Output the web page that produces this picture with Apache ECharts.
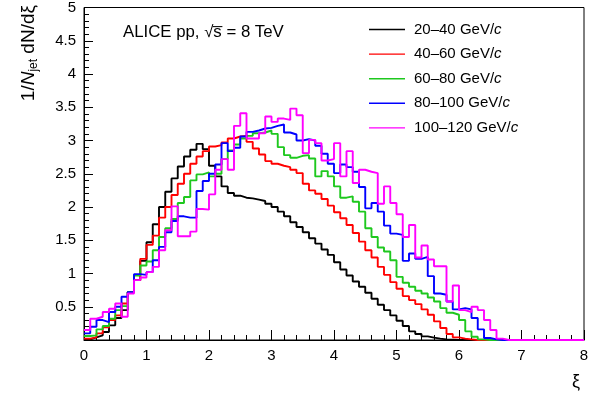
<!DOCTYPE html>
<html>
<head>
<meta charset="utf-8">
<script src="https://cdn.jsdelivr.net/npm/echarts@6/dist/echarts.min.js"></script>
<style>
html,body{margin:0;padding:0;background:#fff;}
#chart{width:602px;height:401px;}
</style>
</head>
<body>
<div id="chart"></div>
<script>
// Bin layout: 80 bins of width 0.1 from xi = 0 to 8
var binWidth = 0.1;
var nBins = 80;

var seriesNames = ['20–40 GeV/', '40–60 GeV/', '60–80 GeV/', '80–100 GeV/', '100–120 GeV/'];

var pt20_40 = [
  0.01, 0.04, 0.07, 0.12, 0.22, 0.33, 0.45, 0.72, 0.9, 1.19,
  1.47, 1.74, 2.0, 2.23, 2.43, 2.61, 2.76, 2.86, 2.95, 2.87,
  2.62, 2.46, 2.31, 2.21, 2.17, 2.14, 2.13, 2.11, 2.09, 2.05,
  2.0, 1.93, 1.86, 1.77, 1.7, 1.62, 1.53, 1.45, 1.36, 1.28,
  1.17, 1.06, 0.97, 0.88, 0.8, 0.71, 0.62, 0.53, 0.45, 0.37,
  0.29, 0.21, 0.13, 0.09, 0.055, 0.035, 0.02, 0.01, 0.005, 0,
  0, 0, 0, 0, 0, 0, 0, 0, 0, 0,
  0, 0, 0, 0, 0, 0, 0, 0, 0, 0
];
var pt40_60 = [
  0.02, 0.04, 0.1, 0.19, 0.3, 0.37, 0.55, 0.72, 0.9, 1.22,
  1.43, 1.57, 1.84, 2.0, 2.18, 2.35, 2.5, 2.65, 2.76, 2.84,
  2.91, 2.93, 2.97, 3.03, 3.06, 3.07, 2.98, 2.88, 2.79, 2.69,
  2.65, 2.62, 2.6, 2.56, 2.51, 2.35, 2.25, 2.2, 2.12, 2.02,
  1.92, 1.83, 1.73, 1.61, 1.48, 1.35, 1.24, 1.1, 0.98, 0.87,
  0.77, 0.66, 0.6, 0.54, 0.46, 0.38, 0.28, 0.18, 0.09, 0.04,
  0.02, 0.01, 0, 0, 0, 0, 0, 0, 0, 0,
  0, 0, 0, 0, 0, 0, 0, 0, 0, 0
];
var pt60_80 = [
  0.06, 0.07, 0.16, 0.21, 0.32, 0.45, 0.51, 0.72, 0.97, 1.12,
  1.18, 1.35, 1.55, 1.68, 1.82, 2.06, 2.15, 2.4, 2.49, 2.52,
  2.46, 2.5, 2.72, 2.85, 2.94, 3.03, 3.07, 3.11, 3.12, 3.15,
  3.1, 2.9, 2.78, 2.74, 2.77, 2.78, 2.73, 2.46, 2.54, 2.46,
  2.31, 2.14, 2.16, 2.08, 1.93, 1.68, 1.55, 1.39, 1.33, 1.2,
  0.95, 0.86, 0.8, 0.74, 0.7, 0.64, 0.58, 0.48, 0.41, 0.38,
  0.3, 0.13, 0.05, 0.01, 0, 0, 0, 0, 0, 0,
  0, 0, 0, 0, 0, 0, 0, 0, 0, 0
];
var pt80_100 = [
  0.1, 0.2, 0.3, 0.27, 0.42, 0.5, 0.65, 0.72, 0.99, 0.98,
  1.02, 1.2, 1.4, 1.62, 1.79, 1.86, 1.84, 1.84, 2.24, 2.39,
  2.5, 2.64, 2.96, 2.84, 2.89, 3.06, 3.13, 3.15, 3.18, 3.19,
  3.22, 3.24, 3.12, 3.09, 3.0, 3.02, 3.0, 2.92, 2.8, 2.65,
  2.51, 2.64, 2.6, 2.53, 2.3, 1.98, 2.06, 1.93, 1.72, 1.6,
  1.58, 1.19, 1.3, 1.22, 1.25, 0.96, 0.7, 0.68, 0.58, 0.46,
  0.48, 0.46, 0.33, 0.16, 0.03, 0.01, 0, 0, 0, 0,
  0, 0, 0, 0, 0, 0, 0, 0, 0, 0
];
var pt100_120 = [
  0.15, 0.32, 0.35, 0.42, 0.47, 0.55, 0.35, 0.7, 0.9, 0.94,
  1.02, 1.1, 1.35, 1.65, 2.01, 1.56, 1.56, 1.63, 1.97, 1.96,
  2.19, 2.56, 2.72, 2.56, 3.22, 3.41, 3.03, 3.03, 3.11, 3.36,
  3.28, 3.33, 3.31, 3.48, 3.38, 2.81, 3.01, 2.96, 2.7, 2.72,
  2.96, 2.46, 2.84, 2.36, 2.56, 2.53, 2.51, 2.05, 2.31, 2.06,
  1.89, 1.55, 1.73, 1.24, 1.42, 1.21, 1.11, 1.11, 0.58, 0.82,
  0.45, 0.42, 0.5, 0.45, 0.3, 0.15, 0.02, 0, 0, 0,
  0, 0, 0, 0, 0, 0, 0, 0, 0, 0
];

var seriesValues = [pt20_40, pt40_60, pt60_80, pt80_100, pt100_120];
var seriesColors = ['#000000', '#ff0000', '#1ec81e', '#0000ff', '#ff00ff'];

function histData(vals) {
  var out = [];
  for (var i = 0; i < vals.length; i++) {
    out.push([+(i * binWidth).toFixed(2), vals[i]]);
  }
  out.push([+(vals.length * binWidth).toFixed(2), vals[vals.length - 1]]);
  return out;
}

var FONT = '"Liberation Sans", Arial, Helvetica, sans-serif';

var series = seriesValues.map(function (vals, k) {
  return {
    name: seriesNames[k],
    type: 'line',
    step: 'end',
    symbol: 'none',
    showSymbol: false,
    data: histData(vals),
    lineStyle: { color: seriesColors[k], width: 1.9 },
    itemStyle: { color: seriesColors[k] },
    animation: false,
    z: 2 + k
  };
});

var chart = echarts.init(document.getElementById('chart'), null, { renderer: 'canvas' });
chart.setOption({
  backgroundColor: '#ffffff',
  animation: false,
  grid: { left: 84, right: 18, top: 6, bottom: 61, show: true, borderColor: '#000', borderWidth: 1, backgroundColor: 'transparent' },
  xAxis: {
    type: 'value', min: 0, max: 8, interval: 1,
    axisLine: { show: true, onZero: false, lineStyle: { color: '#000', width: 1 } },
    axisTick: { show: true, inside: true, length: 10, lineStyle: { color: '#000' } },
    minorTick: { show: true, splitNumber: 5, length: 5, lineStyle: { color: '#000' } },
    splitLine: { show: false },
    axisLabel: { color: '#000', fontFamily: FONT, fontSize: 15, margin: 8 }
  },
  yAxis: {
    type: 'value', min: 0, max: 5, interval: 0.5,
    axisLine: { show: true, onZero: false, lineStyle: { color: '#000', width: 1 } },
    axisTick: { show: true, inside: true, length: 9, lineStyle: { color: '#000' } },
    minorTick: { show: true, splitNumber: 5, length: 5, lineStyle: { color: '#000' } },
    splitLine: { show: false },
    axisLabel: {
      color: '#000', fontFamily: FONT, fontSize: 15, margin: 8,
      formatter: function (v) { return v === 0 ? '' : String(v); }
    }
  },
  legend: {
    orient: 'vertical',
    left: 369, top: 22, padding: 0,
    itemWidth: 36, itemHeight: 14, itemGap: 9.6,
    data: seriesNames.map(function (n, k) {
      return { name: n, icon: 'path://M0,6.3 L36,6.3 L36,7.7 L0,7.7 Z', itemStyle: { color: seriesColors[k] } };
    }),
    formatter: function (n) { return '{a|' + n + '}{i|c}'; },
    textStyle: {
      color: '#000', fontFamily: FONT, fontSize: 15, padding: [0, 0, 0, 4],
      rich: {
        a: { fontFamily: FONT, fontSize: 15, color: '#000', height: 14 },
        i: { fontFamily: FONT, fontSize: 15, color: '#000', fontStyle: 'italic', height: 14 }
      }
    }
  },
  graphic: [
    {
      type: 'text', left: 123, top: 24,
      style: { text: 'ALICE pp, √s\u0305 = 8 TeV', font: '16.8px ' + FONT, fill: '#000' }
    },
    {
      type: 'text', x: 576, y: 382,
      style: { text: 'ξ', font: '18px ' + FONT, fill: '#000', align: 'center', verticalAlign: 'middle' }
    },
    {
      type: 'text', x: 29, y: 5, rotation: Math.PI / 2,
      style: {
        text: '{n|1/}{it|N}{sub|jet}{n| dN/dξ}',
        align: 'right', verticalAlign: 'middle',
        rich: {
          n: { font: '19px ' + FONT, fill: '#000' },
          it: { font: 'italic 19px ' + FONT, fill: '#000' },
          sub: { font: '12px ' + FONT, fill: '#000', padding: [10, 0, 0, 0] }
        }
      }
    }
  ],
  series: series
});
</script>
</body>
</html>
